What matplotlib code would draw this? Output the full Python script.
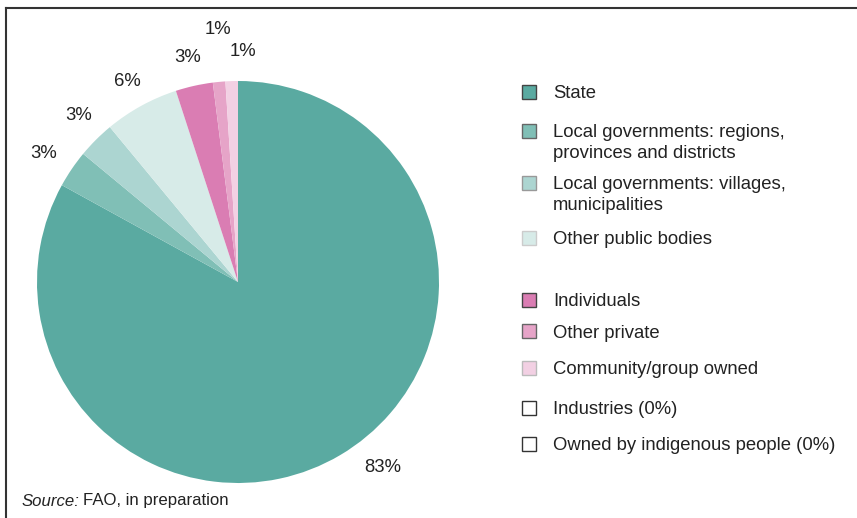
import matplotlib.pyplot as plt
from matplotlib.patches import Rectangle
from matplotlib.lines import Line2D

plt.rcParams['font.family'] = ['Liberation Sans', 'DejaVu Sans']

# ownership of forests, share of area
names = ['State', 'Local governments: regions,\nprovinces and districts',
         'Local governments: villages,\nmunicipalities', 'Other public bodies',
         'Individuals', 'Other private', 'Community/group owned',
         'Industries (0%)', 'Owned by indigenous people (0%)']
values = [83, 3, 3, 6, 3, 1, 1]
pct_labels = ['83%', '3%', '3%', '6%', '3%', '1%', '1%']
colors = ['#5aaaa1', '#80bfb6', '#acd5d1', '#d7ebe8',
          '#da7db3', '#e6a4c8', '#f2d0e3', 'white', 'white']
edges = ['#444444', '#666666', '#999999', '#cccccc',
         '#444444', '#666666', '#bbbbbb', '#333333', '#333333']

W, H = 857, 518
fig = plt.figure(figsize=(W/100, H/100), dpi=100)

cx, cy, r = 238, 282, 201
ax = fig.add_axes([(cx-r)/W, (H-cy-r)/H, 2*r/W, 2*r/H])
ax.pie(values, colors=colors[:len(values)], startangle=90, counterclock=False,
       radius=1, wedgeprops=dict(linewidth=0))
ax.set_xlim(-1, 1); ax.set_ylim(-1, 1)
ax.set_aspect('equal')
ax.axis('off')

# label spots (pixels in the picture)
lab_px = [(383, 468), (44, 153), (79, 115), (127, 81), (188, 57), (218, 29), (243, 51)]
for t, (px, py) in zip(pct_labels, lab_px):
    fig.text(px/W, 1-py/H, t, ha='center', va='center', fontsize=13.3, color='#222222')

# legend by hand
row_y = [92, 141, 193, 238, 300, 331, 368, 408, 444]
for nm, c, e, yy in zip(names, colors, edges, row_y):
    nl = nm.count('\n')
    top = yy - 10.5*nl
    fig.add_artist(Rectangle((522/W, 1-(top+7)/H), 14/W, 14/H, facecolor=c,
                             edgecolor=e, linewidth=1.0, transform=fig.transFigure))
    fig.text(553/W, 1-(yy+2)/H, nm, ha='left', va='center', fontsize=13.3,
             color='#222222', linespacing=1.3)

# source line
t1 = fig.text(22/W, 1-501/H, 'Source:', style='italic', fontsize=12.1,
              ha='left', va='center', color='#222222')
fig.canvas.draw()
bb = t1.get_window_extent()
fig.text((bb.x1+3)/W, 1-501/H, 'FAO, in preparation', fontsize=12.1,
         ha='left', va='center', color='#222222')

# frame lines top and left
fig.add_artist(Line2D([6/W, 1], [1-8/H, 1-8/H], color='#333333', lw=1.5,
                      transform=fig.transFigure))
fig.add_artist(Line2D([6/W, 6/W], [0, 1-8/H], color='#333333', lw=1.5,
                      transform=fig.transFigure))

fig.savefig('out.png', dpi=100)
